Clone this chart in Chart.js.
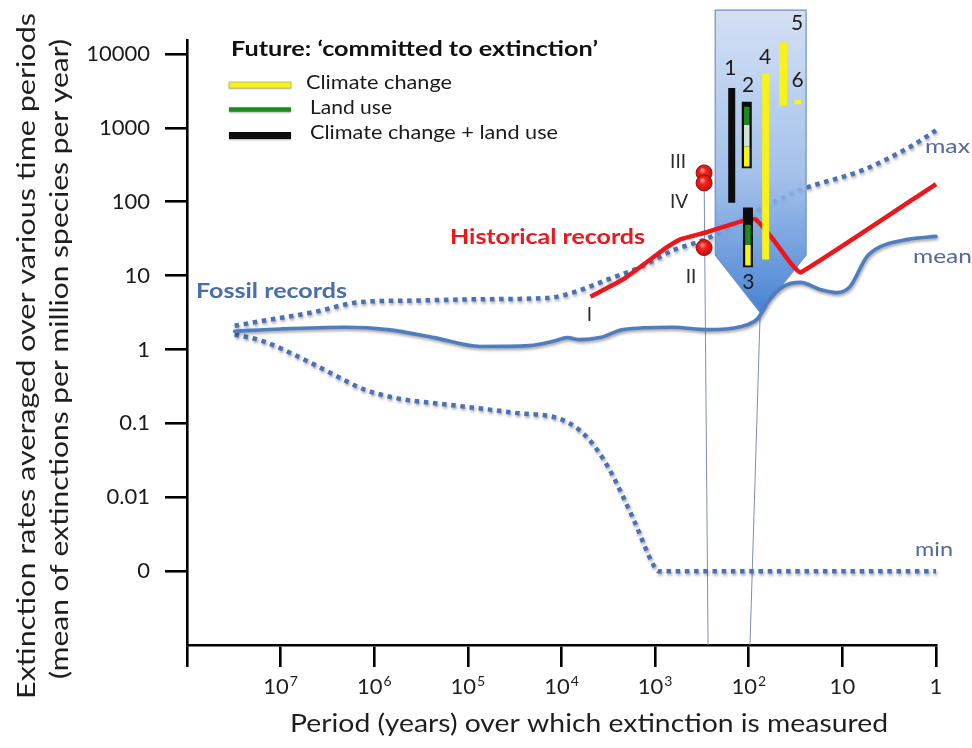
<!DOCTYPE html>
<html>
<head>
<meta charset="utf-8">
<title>Extinction rates over various time periods</title>
<script src="https://cdn.jsdelivr.net/npm/chart.js@4.4.1/dist/chart.umd.min.js"></script>
<style>
  html, body { margin: 0; padding: 0; background: #ffffff; }
  #wrap { width: 972px; height: 748px; position: relative; }
  canvas { display: block; }
</style>
</head>
<body>
<div id="wrap"><canvas id="chart" width="972" height="748"></canvas></div>
<script>
// ---------- axes ----------
const periodTicks = [1e8, 1e7, 1e6, 1e5, 1e4, 1e3, 1e2, 10, 1];
const periodTickLabels = ['', '7', '6', '5', '4', '3', '2', '10', '1']; // exponents of 10, plain text for 10 and 1
const rateTicks = [1e4, 1e3, 100, 10, 1, 0.1, 0.01, 0.001];
const rateTickLabels = ['10000', '1000', '100', '10', '1', '0.1', '0.01', '0'];
const periodMin = 1, periodMax = 1e8;
const rateMin = 1e-4, rateMax = 15500;

// ---------- fossil records (extinctions per million species per year) ----------
const meanYears = [3.1e7, 1e7, 2e6, 7.2e5, 2.3e5, 7.4e4, 2.2e4, 1.2e4, 8.7e3, 6.3e3, 3.9e3, 2.2e3, 650, 275, 123, 81, 59, 43, 28, 17.4, 11.5, 8.3, 5.5, 4, 2, 1];
const meanRates = [1.77, 1.9, 2.0, 1.86, 1.45, 1.1, 1.13, 1.3, 1.45, 1.36, 1.45, 1.86, 2.0, 1.86, 2.04, 2.6, 4.8, 7.1, 8.1, 6.5, 5.9, 7.1, 18, 24.5, 31, 34];

const maxYears = [3.1e7, 1.55e7, 4.5e6, 1.4e6, 3.9e5, 7.4e4, 1.4e4, 7.6e3, 3.2e3, 1.45e3, 650, 275, 71, 28, 6, 1.74, 1];
const maxRates = [2.1, 2.45, 3.2, 4.4, 4.6, 4.8, 5.0, 5.9, 8.9, 13, 22, 32, 83, 145, 270, 590, 930];

const minYears = [3.1e7, 1.55e7, 6.6e6, 3e6, 1.3e6, 5.8e5, 1.66e5, 3.3e4, 9.5e3, 5.4e3, 3.2e3, 1.7e3, 1.05e3, 930, 1];
const minRates = [1.6, 1.3, 0.81, 0.49, 0.29, 0.22, 0.18, 0.14, 0.11, 0.066, 0.026, 0.005, 0.00123, 0.001, 0.001];

// ---------- historical records ----------
const histYears = [4900, 2200, 740, 540, 275, 123, 85, 55, 36, 28, 1];
const histRates = [5.2, 8.9, 24.5, 31, 39, 54, 58, 31, 15, 11, 174];

const recordLabels = ['III', 'IV', 'II'];
const recordYears = [300, 300, 300];
const recordRates = [246, 180, 24];

// ---------- future: committed to extinction ----------
const barLabels = ['1', '2', '3', '4', '5', '6'];
const barYears = [152, 105, 102, 66, 43, 30];
const barTops = [3470, 2265, 84, 5500, 14500, 2400];
const barBottoms = [97, 285, 13, 16.5, 2000, 2100];
// bands inside the outlined bars 2 and 3 (upper edge, lower edge)
const bar2Land = [1940, 1100];
const bar2Gap = [1100, 560];
const bar2Climate = [560, 300];
const bar3Land = [49, 26];
const bar3Climate = [26, 13.7];

// callout outline and guide lines down to the period axis
const calloutYears = [228, 228, 75.5, 24.4, 24.4];
const calloutRates = [39400, 19, 3.16, 19, 39400];
const guideAYears = [300, 272];
const guideARates = [246, rateMin];
const guideBYears = [75.5, 97];
const guideBRates = [3.16, rateMin];

// ---------- styles ----------
const FONT = 'Lato, "Open Sans", sans-serif';
const BLUE = '#4f7dbf';
const BLUE_DOT = '#4c71b3';
const RED = '#ea171d';
const YELLOW = '#f6f21a';
const GREEN = '#1f8a1f';
const BLACK = '#0c0c0c';

const pts = (xs, ys) => xs.map((x, i) => ({ x, y: ys[i] }));

function seg(x, top, bottom, color, width, order) {
  return {
    data: [{ x, y: top }, { x, y: bottom }],
    borderColor: color, borderWidth: width, borderCapStyle: 'butt',
    pointRadius: 0, tension: 0, clip: false, order
  };
}

const datasets = [
  { id: 'guideA', data: pts(guideAYears, guideARates), borderColor: '#7c8db6', borderWidth: 1, pointRadius: 0, tension: 0, clip: false, order: 30 },
  { id: 'guideB', data: pts(guideBYears, guideBRates), borderColor: '#7c8db6', borderWidth: 1, pointRadius: 0, tension: 0, clip: false, order: 29 },
  { id: 'min', data: pts(minYears, minRates), borderColor: BLUE_DOT, borderWidth: 4.5, borderDash: [4.5, 4.7], borderCapStyle: 'butt',
    pointRadius: 0, cubicInterpolationMode: 'monotone', clip: false, shadow: true, order: 28 },
  { id: 'max', data: pts(maxYears, maxRates), borderColor: BLUE_DOT, borderWidth: 4.5, borderDash: [4.5, 4.7], borderCapStyle: 'butt',
    pointRadius: 0, cubicInterpolationMode: 'monotone', clip: false, shadow: true, order: 27 },
  { id: 'mean', data: pts(meanYears, meanRates), borderColor: BLUE, borderWidth: 3.6, borderCapStyle: 'round',
    pointRadius: 0, cubicInterpolationMode: 'monotone', clip: false, shadow: true, order: 26 },
  { id: 'hist', data: pts(histYears, histRates), borderColor: RED, borderWidth: 4.5, borderCapStyle: 'butt', borderJoinStyle: 'round',
    pointRadius: 0, tension: 0.12, clip: false, order: 25 },
  // simple bars
  seg(barYears[0], barTops[0], barBottoms[0], BLACK, 7, 20),
  seg(barYears[3], barTops[3], barBottoms[3], YELLOW, 7, 20),
  seg(barYears[4], barTops[4], barBottoms[4], YELLOW, 8, 20),
  seg(barYears[5], barTops[5], barBottoms[5], YELLOW, 7, 20),
  // outlined bar 2
  seg(barYears[1], barTops[1], barBottoms[1], BLACK, 10, 19),
  seg(barYears[1], bar2Land[0], bar2Land[1], GREEN, 5.5, 18),
  seg(barYears[1], bar2Gap[0], bar2Gap[1], '#d3e2d6', 5.5, 18),
  seg(barYears[1], bar2Climate[0], bar2Climate[1], YELLOW, 5.5, 18),
  // outlined bar 3
  seg(barYears[2], barTops[2], barBottoms[2], BLACK, 10, 19),
  seg(barYears[2], bar3Land[0], bar3Land[1], GREEN, 5.5, 18),
  seg(barYears[2], bar3Climate[0], bar3Climate[1], YELLOW, 5.5, 18),
  // historical record points
  { id: 'records', data: pts(recordYears, recordRates), showLine: false, clip: false, order: 10,
    pointRadius: 8, pointBorderWidth: 1, pointBorderColor: '#a01010',
    pointBackgroundColor: (c) => {
      const ch = c.chart;
      if (!ch.scales || !ch.scales.x || !ch.scales.y || !c.parsed) return RED;
      const px = ch.scales.x.getPixelForValue(c.parsed.x);
      const py = ch.scales.y.getPixelForValue(c.parsed.y);
      if (!isFinite(px) || !isFinite(py)) return RED;
      const g = ch.ctx.createRadialGradient(px - 2, py - 3, 0.5, px, py, 8.5);
      g.addColorStop(0, '#ff9d94');
      g.addColorStop(0.35, '#f2241f');
      g.addColorStop(1, '#c00d0d');
      return g;
    } }
];

// text drawn at a fixed width, left/center aligned
function fitText(ctx, text, x, y, width, font, color, align, rotate) {
  ctx.save();
  ctx.font = font;
  ctx.fillStyle = color;
  ctx.textBaseline = 'middle';
  ctx.textAlign = align || 'left';
  const w = ctx.measureText(text).width;
  ctx.translate(x, y);
  if (rotate) ctx.rotate(rotate);
  ctx.scale(width / w, 1);
  ctx.fillText(text, 0, 0);
  ctx.restore();
}

function plainText(ctx, text, x, y, font, color, align) {
  ctx.save();
  ctx.font = font;
  ctx.fillStyle = color;
  ctx.textAlign = align || 'center';
  ctx.textBaseline = 'middle';
  ctx.fillText(text, x, y);
  ctx.restore();
}

function drawCallout(chart) {
  const { ctx, scales: { x, y } } = chart;
  const P = calloutYears.map((yr, i) => [x.getPixelForValue(yr), y.getPixelForValue(calloutRates[i])]);
  ctx.save();
  const top = P[0][1], tip = P[2][1];
  const g = ctx.createLinearGradient(0, top, 0, tip);
  g.addColorStop(0, 'rgba(206,220,242,0.88)');
  g.addColorStop(0.55, 'rgba(150,184,232,0.88)');
  g.addColorStop(1, 'rgba(62,124,208,0.95)');
  ctx.beginPath();
  P.forEach((p, i) => (i ? ctx.lineTo(p[0], p[1]) : ctx.moveTo(p[0], p[1])));
  ctx.closePath();
  ctx.fillStyle = g;
  ctx.fill();
  ctx.strokeStyle = '#6f8fc4';
  ctx.lineWidth = 1.2;
  ctx.stroke();
  ctx.restore();
}

const decorPlugin = {
  id: 'decor',
  beforeDatasetDraw(chart, args) {
    const ds = chart.data.datasets[args.index];
    if (ds.id === 'mean') drawCallout(chart);
    if (ds.shadow) {
      const ctx = chart.ctx;
      ctx.save();
      ctx.shadowColor = 'rgba(0,0,0,0.35)';
      ctx.shadowBlur = 3;
      ctx.shadowOffsetX = 1;
      ctx.shadowOffsetY = 2;
      ds._shadowed = true;
    }
  },
  afterDatasetDraw(chart, args) {
    const ds = chart.data.datasets[args.index];
    if (ds._shadowed) { chart.ctx.restore(); ds._shadowed = false; }
  },
  afterDraw(chart) {
    const { ctx, scales: { x, y } } = chart;
    const TXT = '#1e1e1e';

    // period tick labels with superscript exponents
    periodTicks.forEach((v, i) => {
      const lab = periodTickLabels[i];
      if (!lab) return;
      const px = x.getPixelForValue(v);
      ctx.save();
      ctx.fillStyle = TXT;
      ctx.textBaseline = 'alphabetic';
      if (v >= 100) {
        ctx.font = '22px ' + FONT;
        const wb = ctx.measureText('10').width;
        ctx.font = '14px ' + FONT;
        const we = ctx.measureText(lab).width;
        const left = px - (wb + 1 + we) / 2;
        ctx.font = '22px ' + FONT;
        ctx.textAlign = 'left';
        ctx.fillText('10', left, 694);
        ctx.font = '14px ' + FONT;
        ctx.fillText(lab, left + wb + 1, 686);
      } else {
        ctx.font = '22px ' + FONT;
        ctx.textAlign = 'center';
        ctx.fillText(lab, px, 694);
      }
      ctx.restore();
    });

    // axis titles
    fitText(ctx, 'Period (years) over which extinction is measured', 589, 724, 598, '25px ' + FONT, TXT, 'center');
    fitText(ctx, 'Extinction rates averaged over various time periods', 27, 356, 686, '25px ' + FONT, TXT, 'center', -Math.PI / 2);
    fitText(ctx, '(mean of extinctions per million species per year)', 60, 359, 640, '25px ' + FONT, TXT, 'center', -Math.PI / 2);

    // legend for the committed-to-extinction bars
    fitText(ctx, 'Future: \u2018committed to extinction\u2019', 231, 49, 367, 'bold 21px ' + FONT, '#111', 'left');
    const legendRows = [
      ['Climate change', YELLOW, 6, 85, 306, 83, 146],
      ['Land use', GREEN, 4.5, 109.5, 310, 107.5, 82],
      ['Climate change + land use', BLACK, 7, 135.5, 310, 133, 248]
    ];
    legendRows.forEach(([label, color, w, ly, tx, ty, tw]) => {
      ctx.save();
      ctx.shadowColor = 'rgba(0,0,0,0.3)';
      ctx.shadowBlur = 2;
      ctx.shadowOffsetY = 1;
      ctx.fillStyle = color;
      ctx.fillRect(229, ly - w / 2, 62, w);
      ctx.restore();
      if (color === YELLOW) {
        ctx.save(); ctx.strokeStyle = '#b9b64a'; ctx.lineWidth = 0.8;
        ctx.strokeRect(229, ly - w / 2, 62, w); ctx.restore();
      }
      fitText(ctx, label, tx, ty, tw, '19px ' + FONT, '#1a1a1a', 'left');
    });

    // series labels
    fitText(ctx, 'Historical records', 450, 237, 195, 'bold 21px ' + FONT, RED, 'left');
    fitText(ctx, 'Fossil records', 196, 291, 151, 'bold 21px ' + FONT, '#4a6ea6', 'left');
    fitText(ctx, 'max', 925, 147, 45, '20px ' + FONT, '#56699a', 'left');
    fitText(ctx, 'mean', 913, 257, 59, '20px ' + FONT, '#56699a', 'left');
    fitText(ctx, 'min', 915, 550, 38, '20px ' + FONT, '#56699a', 'left');

    // roman numerals for historical records
    const rf = '19px ' + FONT;
    const rOff = [[-26, -11], [-25, 19], [-13, 29]];
    recordLabels.forEach((lab, i) => {
      const px = x.getPixelForValue(recordYears[i]);
      const py = y.getPixelForValue(recordRates[i]);
      plainText(ctx, lab, px + rOff[i][0], py + rOff[i][1], rf, '#2a2a2a');
    });
    plainText(ctx, 'I', x.getPixelForValue(histYears[0]) - 1, y.getPixelForValue(histRates[0]) + 18, rf, '#2a2a2a');

    // numbers of the committed-to-extinction bars
    const bf = '21px ' + FONT;
    const bOff = [[-1.5, -20, 'top'], [1.3, -16, 'top'], [0.5, 15, 'bottom'], [-0.5, -16, 'top'], [14, -19, 'top'], [0, -20, 'top']];
    barLabels.forEach((lab, i) => {
      const px = x.getPixelForValue(barYears[i]);
      const anchor = bOff[i][2] === 'top' ? barTops[i] : barBottoms[i];
      const py = y.getPixelForValue(anchor);
      plainText(ctx, lab, px + bOff[i][0], py + bOff[i][1], bf, '#1c1c1c');
    });
  }
};

new Chart(document.getElementById('chart'), {
  type: 'line',
  data: { datasets },
  options: {
    responsive: false,
    animation: false,
    devicePixelRatio: 1,
    events: [],
    layout: { padding: { top: 40, right: 36, left: 0, bottom: 0 } },
    plugins: { legend: { display: false }, tooltip: { enabled: false }, title: { display: false } },
    scales: {
      x: {
        type: 'logarithmic', reverse: true, min: periodMin, max: periodMax, bounds: 'data',
        position: 'bottom',
        afterBuildTicks: (s) => { s.ticks = periodTicks.map(v => ({ value: v })); },
        afterFit: (s) => { s.height = 103; },
        ticks: { display: false, autoSkip: false },
        grid: { drawOnChartArea: false, drawTicks: true, tickLength: 22, color: '#000', lineWidth: 2.6 },
        border: { display: true, color: '#000', width: 2.6 }
      },
      y: {
        type: 'logarithmic', min: rateMin, max: rateMax, bounds: 'data',
        position: 'left',
        afterBuildTicks: (s) => { s.ticks = rateTicks.map(v => ({ value: v })); },
        afterFit: (s) => { s.width = 187; },
        ticks: {
          autoSkip: false, padding: 15, color: '#1a1a1a',
          font: { family: FONT, size: 22 },
          callback: (v) => {
            const i = rateTicks.findIndex(t => Math.abs(Math.log10(t) - Math.log10(v)) < 1e-6);
            return i >= 0 ? rateTickLabels[i] : '';
          }
        },
        grid: { drawOnChartArea: false, drawTicks: true, tickLength: 22, color: '#000', lineWidth: 2.6 },
        border: { display: true, color: '#000', width: 2.6 }
      }
    }
  },
  plugins: [decorPlugin]
});
</script>
</body>
</html>
